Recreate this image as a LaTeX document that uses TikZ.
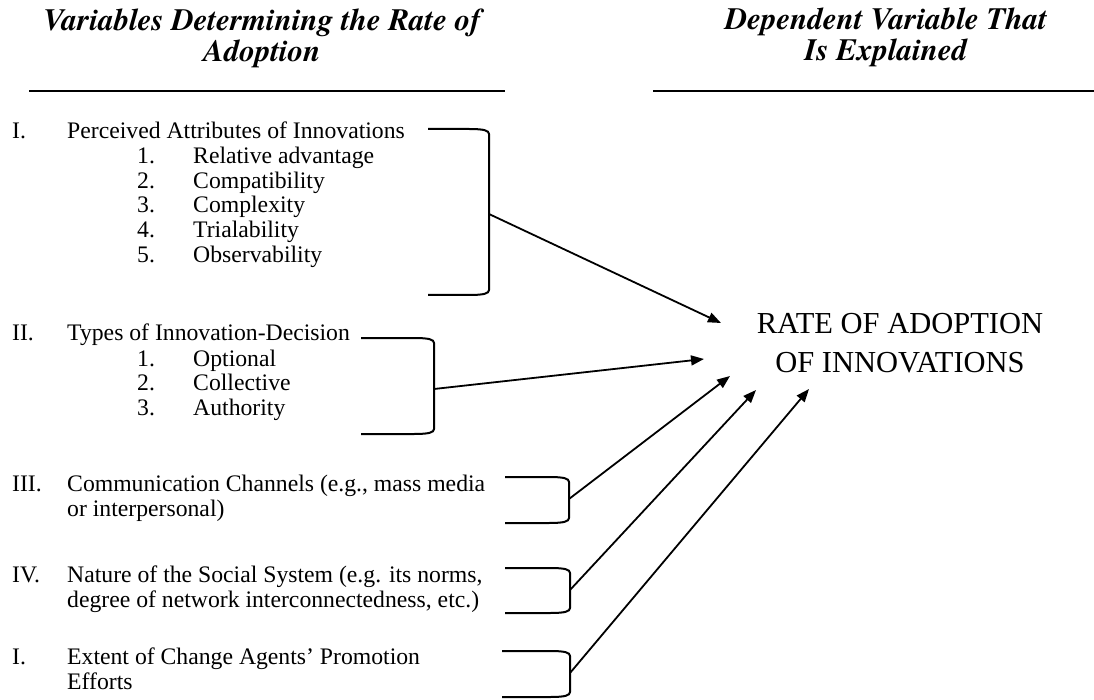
\documentclass[tikz,border=0pt]{standalone}
\usepackage{fontspec}
\setmainfont{Liberation Serif}
\newfontfamily\headfont{TeX Gyre Termes}
\usetikzlibrary{arrows.meta}
\tikzset{
  body/.style={anchor=base west,inner sep=0pt,font=\fontsize{23.7}{25}\selectfont},
  head/.style={anchor=base,inner sep=0pt,font=\fontsize{31}{32}\headfont\bfseries\itshape},
  big/.style={anchor=base,inner sep=0pt,font=\fontsize{30.5}{32}\selectfont},
  rule/.style={line width=2pt},
  brk/.style={line width=2pt},
  arr/.style={line width=1.8pt,-{Triangle[length=13pt,width=10pt]}}
}
\newcommand{\brkt}[4]{%
  \draw[brk] (#1,#3) -- (#2-20,#3) .. controls (#2-5,#3) and (#2,#3+1.5) .. (#2,#3+5)
    -- (#2,#4-5) .. controls (#2,#4-1.5) and (#2-5,#4) .. (#2-20,#4) -- (#1,#4);
}
\begin{document}
\begin{tikzpicture}[x=1pt,y=-1pt]
\useasboundingbox (0,0) rectangle (1094,700);
\fill[white] (0,0) rectangle (1094,700);
% headers
\node[head] (h1a) at (262,31) {Variables Determining the Rate of};
\node[head] (h1b) at (262,62) {Adoption};
\node[head] (h2a) at (886,30) {Dependent Variable That};
\node[head] (h2b) at (886,61) {Is Explained};
\draw[rule] (29,91) -- (505,91);
\draw[rule] (653,91) -- (1094,91);
% section I
\node[body] (n1) at (12,139) {I.};
\node[body] (t1) at (67,139) {Perceived Attributes of Innovations};
\node[body] (n11) at (137,164) {1.};
\node[body] (t11) at (193,164) {Relative advantage};
\node[body] (n12) at (137,189) {2.};
\node[body] (t12) at (193,189) {Compatibility};
\node[body] (n13) at (137,213) {3.};
\node[body] (t13) at (193,213) {Complexity};
\node[body] (n14) at (137,238) {4.};
\node[body] (t14) at (193,238) {Trialability};
\node[body] (n15) at (137,263) {5.};
\node[body] (t15) at (193,263) {Observability};
% section II
\node[body] (n2) at (12,341) {II.};
\node[body] (t2) at (67,341) {Types of Innovation-Decision};
\node[body] (n21) at (137,366) {1.};
\node[body] (t21) at (193,366) {Optional};
\node[body] (n22) at (137,390) {2.};
\node[body] (t22) at (193,390) {Collective};
\node[body] (n23) at (137,415) {3.};
\node[body] (t23) at (193,415) {Authority};
% section III
\node[body] (n3) at (12,491) {III.};
\node[body] (t3a) at (67,491) {Communication Channels (e.g., mass media};
\node[body] (t3b) at (67,516) {or interpersonal)};
% section IV
\node[body] (n4) at (12,582) {IV.};
\node[body] (t4a) at (67,582) {Nature of the Social System (e.g. its norms,};
\node[body] (t4b) at (67,607) {degree of network interconnectedness, etc.)};
% section V
\node[body] (n5) at (12,664) {I.};
\node[body] (t5a) at (67,664) {Extent of Change Agents’ Promotion};
\node[body] (t5b) at (67,689) {Efforts};
% dependent variable
\node[big] (rate) at (900,334) {RATE OF ADOPTION};
\node[big] (rate2) at (900,372) {OF INNOVATIONS};
% brackets
\brkt{428}{489}{129}{295}
\brkt{361}{434}{338}{434}
\brkt{505}{569}{477}{523}
\brkt{505}{570}{568}{613}
\brkt{502}{570}{651}{697}
\coordinate (b1) at (489,214);
\coordinate (b2) at (434,389);
\coordinate (b3) at (569,499);
\coordinate (b4) at (570,590);
\coordinate (b5) at (570,673);
\coordinate (p1) at (721,323);
\coordinate (p2) at (704,359);
\coordinate (p3) at (730,376);
\coordinate (p4) at (756,390);
\coordinate (p5) at (809,389);
\foreach \i in {1,...,5} \draw[arr] (b\i) -- (p\i);
\end{tikzpicture}
\end{document}
